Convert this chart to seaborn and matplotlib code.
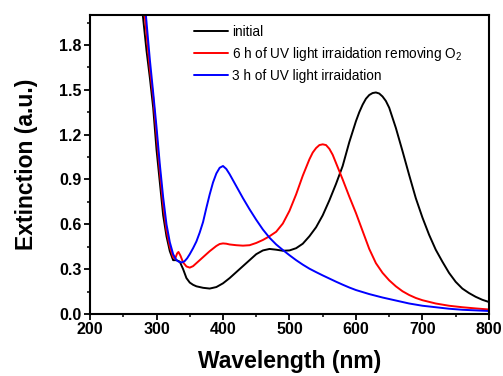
import numpy as np
import pandas as pd
import matplotlib
matplotlib.use("Agg")
import matplotlib.pyplot as plt
from matplotlib.ticker import MultipleLocator
import seaborn as sns

# initial
wl_init = [277, 285, 290, 295, 300, 305, 310, 315, 320, 325, 330, 335, 340, 345, 350, 355, 360,
           370, 380, 390, 400, 410, 420, 430, 440, 450, 460, 470, 480, 490, 500, 510, 520, 530,
           540, 550, 560, 570, 580, 590, 600, 605, 610, 615, 620, 625, 630, 635, 640, 645, 650,
           660, 670, 680, 690, 700, 710, 720, 730, 740, 750, 760, 770, 780, 790, 800]
ext_init = [2.10, 1.76, 1.58, 1.38, 1.10, 0.88, 0.66, 0.52, 0.42, 0.36, 0.36, 0.35, 0.30, 0.24,
            0.21, 0.195, 0.185, 0.175, 0.17, 0.18, 0.205, 0.24, 0.28, 0.32, 0.36, 0.40, 0.425,
            0.435, 0.43, 0.423, 0.425, 0.44, 0.47, 0.52, 0.58, 0.66, 0.76, 0.87, 0.99, 1.15,
            1.29, 1.35, 1.40, 1.44, 1.465, 1.478, 1.482, 1.475, 1.455, 1.425, 1.38, 1.245, 1.09,
            0.93, 0.775, 0.645, 0.53, 0.43, 0.35, 0.275, 0.215, 0.17, 0.14, 0.115, 0.095, 0.08]

# 6 h UV, O2 removed
wl_uv6 = [280, 290, 295, 300, 305, 310, 315, 320, 325, 328, 331, 333, 336, 340, 345, 350, 355,
          360, 370, 380, 390, 395, 400, 405, 410, 420, 430, 440, 450, 460, 470, 480, 490, 500,
          510, 520, 530, 535, 540, 545, 550, 555, 560, 565, 570, 580, 590, 600, 610, 620, 630,
          640, 650, 660, 670, 680, 690, 700, 720, 740, 760, 780, 800]
ext_uv6 = [2.10, 1.64, 1.45, 1.20, 0.95, 0.73, 0.56, 0.45, 0.38, 0.37, 0.405, 0.415, 0.39, 0.345,
           0.318, 0.31, 0.32, 0.34, 0.38, 0.42, 0.455, 0.468, 0.472, 0.47, 0.465, 0.46, 0.457,
           0.46, 0.475, 0.495, 0.52, 0.55, 0.605, 0.69, 0.80, 0.925, 1.035, 1.08, 1.11, 1.13,
           1.135, 1.13, 1.105, 1.065, 1.01, 0.90, 0.785, 0.675, 0.555, 0.435, 0.34, 0.275,
           0.225, 0.185, 0.152, 0.127, 0.107, 0.092, 0.07, 0.055, 0.045, 0.037, 0.03]

# 3 h UV
wl_uv3 = [282, 290, 295, 300, 305, 310, 315, 320, 325, 330, 334, 338, 342, 346, 350, 355, 360,
          365, 370, 375, 380, 385, 390, 395, 400, 405, 410, 420, 430, 440, 450, 460, 470, 480,
          490, 500, 510, 520, 530, 540, 550, 560, 570, 580, 590, 600, 620, 640, 660, 680, 700,
          720, 740, 760, 780, 800]
ext_uv3 = [2.10, 1.70, 1.48, 1.25, 1.00, 0.78, 0.60, 0.48, 0.40, 0.36, 0.348, 0.345, 0.352,
           0.372, 0.40, 0.44, 0.485, 0.545, 0.615, 0.71, 0.80, 0.88, 0.94, 0.978, 0.99, 0.97,
           0.935, 0.855, 0.775, 0.70, 0.63, 0.565, 0.51, 0.465, 0.428, 0.393, 0.36, 0.33,
           0.303, 0.28, 0.258, 0.237, 0.216, 0.196, 0.177, 0.16, 0.133, 0.11, 0.09, 0.07,
           0.055, 0.045, 0.035, 0.028, 0.024, 0.02]

labels = ["initial", "6 h of UV light irraidation removing O$_2$", "3 h of UV light irraidation"]
colors = ["black", "red", "blue"]

sns.set_style("ticks")
plt.rcParams['font.family'] = ['Liberation Sans', 'DejaVu Sans']
plt.rcParams['mathtext.fontset'] = 'custom'
plt.rcParams['mathtext.rm'] = 'Liberation Sans'
plt.rcParams['axes.edgecolor'] = 'black'
plt.rcParams['xtick.color'] = 'black'
plt.rcParams['ytick.color'] = 'black'
plt.rcParams['text.color'] = 'black'
plt.rcParams['axes.labelcolor'] = 'black'

fig = plt.figure(figsize=(5.03, 3.76), dpi=100)
ax = fig.add_axes([0.179, 0.165, 0.793, 0.795])

for wl, ext, lab, c in zip([wl_init, wl_uv6, wl_uv3], [ext_init, ext_uv6, ext_uv3], labels, colors):
    sns.lineplot(x=wl, y=ext, ax=ax, color=c, label=lab, lw=1.4, estimator=None, sort=False)

ax.set_xlim(200, 800)
ax.set_ylim(0, 2.0)
ax.xaxis.set_major_locator(MultipleLocator(100))
ax.xaxis.set_minor_locator(MultipleLocator(50))
ax.yaxis.set_major_locator(MultipleLocator(0.3))
ax.yaxis.set_minor_locator(MultipleLocator(0.15))
ax.yaxis.set_major_formatter(matplotlib.ticker.FormatStrFormatter('%.1f'))
ax.tick_params(which='major', direction='out', length=4, width=1.3, labelsize=11.5, pad=2)
ax.tick_params(which='minor', direction='out', length=2.5, width=1.1)
for t in ax.get_xticklabels() + ax.get_yticklabels():
    t.set_fontweight('bold')
for s in ax.spines.values():
    s.set_linewidth(1.5)
    s.set_visible(True)

ax.set_xlabel('Wavelength (nm)', fontsize=16.5, fontweight='bold', labelpad=9)
ax.set_ylabel('Extinction (a.u.)', fontsize=16.5, fontweight='bold', labelpad=15)

ax.legend(loc='upper left', bbox_to_anchor=(0.24, 0.995), frameon=False, fontsize=9.8,
          handlelength=2.5, handletextpad=0.3, labelspacing=0.45, borderaxespad=0.2)

plt.savefig('out.png', dpi=100)
